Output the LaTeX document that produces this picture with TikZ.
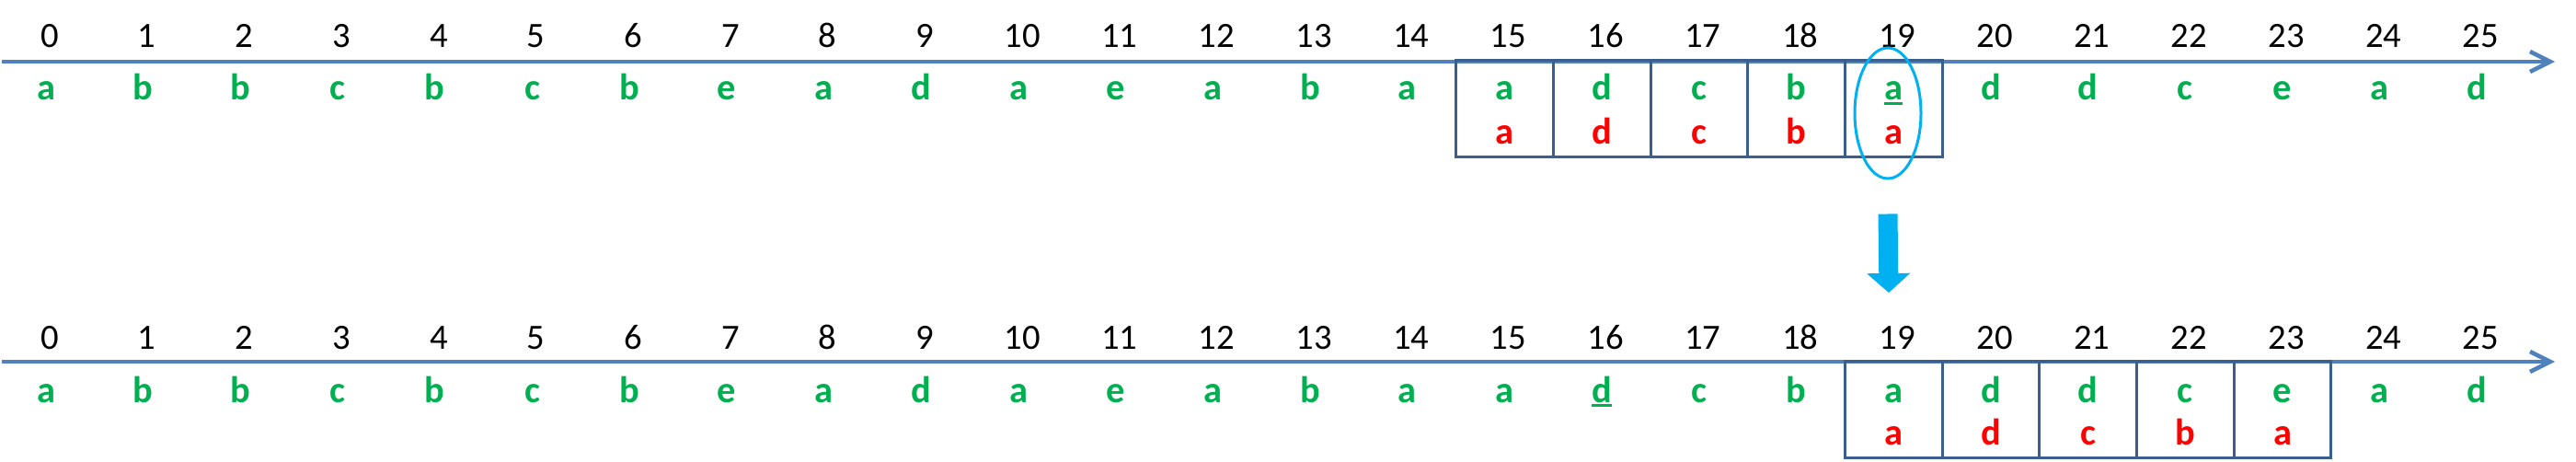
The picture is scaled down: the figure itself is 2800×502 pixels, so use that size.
\documentclass[tikz,border=0pt]{standalone}
\usepackage{fontspec}
\setmainfont{Carlito}
\usetikzlibrary{arrows.meta,shapes.geometric}
\definecolor{axisblue}{HTML}{4F81BD}
\definecolor{boxblue}{HTML}{3B5E8C}
\definecolor{refgreen}{HTML}{00B050}
\definecolor{refred}{HTML}{FF0000}
\definecolor{hitcyan}{HTML}{00B0F0}
% underlined page, thicker rule
\newcommand\uline[1]{\setbox0\hbox{#1}\rlap{\box0}\rule[-1.3pt]{\widthof{#1}}{0.7pt}}
\usepackage{calc}
\begin{document}
\begin{tikzpicture}[x=0.1mm,y=-0.1mm,
  num/.style={anchor=base,inner sep=0pt,font=\fontsize{11}{13}\selectfont},
  page/.style={anchor=base,inner sep=0pt,text=refgreen,font=\fontsize{11.5}{13}\selectfont\bfseries},
  frame/.style={page,text=refred},
  cell/.style={draw=boxblue,line width=0.3mm,minimum width=10.57mm,minimum height=10.45mm,inner sep=0pt},
  axis/.style={draw=axisblue,line width=0.45mm,-{Straight Barb[length=2.2mm,width=2.2mm]}}]
\useasboundingbox (0,0) rectangle (2800,502);
% time axes
\coordinate (ts) at (2,67); \coordinate (te) at (2777,67);
\coordinate (bs) at (2,393); \coordinate (be) at (2777,393);
\draw[axis] (ts) -- (te);
\draw[axis] (bs) -- (be);
% frames before and after
\foreach \i in {15,...,19} \node[cell] (tc\i) at (50+\i*105.7,118) {};
\foreach \i in {19,...,23} \node[cell] (bc\i) at (50+\i*105.7,445) {};
% numbers
\foreach \i in {0,...,25} {
  \node[num] (tn\i) at (54+\i*105.7,52) {\i};
  \node[num] (bn\i) at (54+\i*105.7,379) {\i};
}
% reference string
\foreach \p [count=\i from 0] in {a,b,b,c,b,c,b,e,a,d,a,e,a,b,a,a,d,c,b,\uline{a},d,d,c,e,a,d}
  \node[page] (tl\i) at (50+\i*105.7,109) {\p};
\foreach \p [count=\i from 0] in {a,b,b,c,b,c,b,e,a,d,a,e,a,b,a,a,\uline{d},c,b,a,d,d,c,e,a,d}
  \node[page] (bl\i) at (50+\i*105.7,437) {\p};
% frame contents
\foreach \p [count=\i from 15] in {a,d,c,b,a}
  \node[frame] (tr\i) at (50+\i*105.7,157) {\p};
\foreach \p [count=\i from 19] in {a,d,c,b,a}
  \node[frame] (br\i) at (50+\i*105.7,483) {\p};
% page 19 and the step
\node[ellipse,draw=hitcyan,line width=0.3mm,minimum width=7.2mm,minimum height=14.2mm] (hit) at (2052,123) {};
\coordinate (droptip) at (2053,318);
\draw[hitcyan,line width=2.1mm,-{Triangle[length=2.1mm,width=4.6mm]}] ([yshift=-3.7mm]hit.south) -- (droptip);
\end{tikzpicture}
\end{document}
